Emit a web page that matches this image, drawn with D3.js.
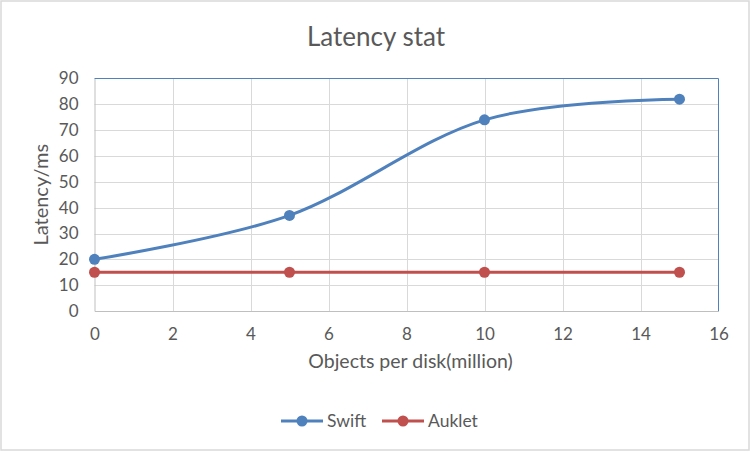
<!DOCTYPE html>
<html>
<head>
<meta charset="utf-8">
<script src="https://cdn.jsdelivr.net/npm/d3@7"></script>
<style>
  html, body { margin: 0; padding: 0; background: #fff; }
  svg { display: block; }
  text { font-family: "Lato", "Noto Sans", sans-serif; fill: #595959; }
</style>
</head>
<body>
<svg id="chart" width="751" height="452"></svg>
<script>
// ---- data ----
const xValues = [0, 5, 10, 15];
const swift = [20, 37, 74, 82];
const auklet = [15, 15, 15, 15];
const seriesNames = ["Swift", "Auklet"];
const seriesColors = ["#4F81BD", "#C0504D"];
const xTicks = [0, 2, 4, 6, 8, 10, 12, 14, 16];
const yTicks = [0, 10, 20, 30, 40, 50, 60, 70, 80, 90];
const title = "Latency stat";
const xTitle = "Objects per disk(million)";
const yTitle = "Latency/ms";

const W = 751, H = 452;
const plot = { left: 94.5, right: 718.5, top: 78.5, bottom: 311 };

const svg = d3.select("#chart");

// outer border
svg.append("rect").attr("x", 1).attr("y", 1).attr("width", 748).attr("height", 449)
  .attr("fill", "#fff").attr("stroke", "#D9D9D9").attr("stroke-width", 1.5);

const x = d3.scaleLinear().domain([0, 16]).range([plot.left, plot.right]);
const y = d3.scaleLinear().domain([0, 90]).range([plot.bottom, plot.top]);

// gridlines
const grid = svg.append("g");
grid.selectAll("line.h").data(yTicks.filter(d => d > 0 && d < 90)).join("line")
  .attr("x1", plot.left).attr("x2", plot.right)
  .attr("y1", d => Math.round(y(d)) + 0.5).attr("y2", d => Math.round(y(d)) + 0.5)
  .attr("stroke", "#D9D9D9").attr("stroke-width", 1);
grid.selectAll("line.v").data(xTicks.filter(d => d > 0 && d < 16)).join("line")
  .attr("y1", plot.top).attr("y2", plot.bottom)
  .attr("x1", d => Math.round(x(d)) + 0.5).attr("x2", d => Math.round(x(d)) + 0.5)
  .attr("stroke", "#D9D9D9").attr("stroke-width", 1);

// plot area border (blue top/right)
svg.append("path")
  .attr("d", `M${plot.left},${plot.top}H${plot.right}V${plot.bottom}`)
  .attr("fill", "none").attr("stroke", "#4F81BD").attr("stroke-width", 1);

// axes via d3 axis
const xAxis = svg.append("g").attr("transform", `translate(0,${plot.bottom})`)
  .call(d3.axisBottom(x).tickValues(xTicks).tickSize(0).tickPadding(17));
xAxis.select(".domain").attr("stroke", "#BFBFBF").attr("stroke-width", 1);
xAxis.selectAll("text").style("font-family", "Lato, 'Noto Sans', sans-serif")
  .style("font-size", "17px").attr("fill", "#595959").attr("dy", "0.71em");

const yAxis = svg.append("g").attr("transform", `translate(${plot.left},0)`)
  .call(d3.axisLeft(y).tickValues(yTicks).tickSize(0).tickPadding(16));
yAxis.select(".domain").attr("stroke", "#BFBFBF").attr("stroke-width", 1);
yAxis.selectAll("text").style("font-family", "Lato, 'Noto Sans', sans-serif")
  .style("font-size", "17px").attr("fill", "#595959");

// titles
svg.append("text").attr("x", 376).attr("y", 46).attr("text-anchor", "middle")
  .style("font-size", "26px").text(title);
svg.append("text").attr("x", (plot.left + plot.right) / 2 + 4).attr("y", 368)
  .attr("text-anchor", "middle").style("font-size", "19.5px").text(xTitle);
svg.append("text").attr("transform", `translate(48,${(plot.top + plot.bottom) / 2}) rotate(-90)`)
  .attr("text-anchor", "middle").style("font-size", "20px").text(yTitle);

// series
const series = [swift, auklet];
const line = d3.line().x(d => x(d[0])).y(d => y(d[1])).curve(d3.curveCardinal.tension(0));
const lineStraight = d3.line().x(d => x(d[0])).y(d => y(d[1]));
series.forEach((vals, i) => {
  const pts = xValues.map((xv, j) => [xv, vals[j]]);
  svg.append("path").datum(pts)
    .attr("d", i === 0 ? line : lineStraight)
    .attr("fill", "none").attr("stroke", seriesColors[i]).attr("stroke-width", 3)
    .attr("stroke-linejoin", "round").attr("stroke-linecap", "round");
  svg.append("g").selectAll("circle").data(pts).join("circle")
    .attr("cx", d => x(d[0])).attr("cy", d => y(d[1])).attr("r", 5.5)
    .attr("fill", seriesColors[i]);
});

// legend
const legendItems = [
  { x0: 281, text: "Swift" },
  { x0: 382, text: "Auklet" }
];
const ly = 421;
legendItems.forEach((it, i) => {
  const g = svg.append("g");
  g.append("line").attr("x1", it.x0).attr("x2", it.x0 + 42).attr("y1", ly).attr("y2", ly)
    .attr("stroke", seriesColors[i]).attr("stroke-width", 3);
  g.append("circle").attr("cx", it.x0 + 21).attr("cy", ly).attr("r", 5.5).attr("fill", seriesColors[i]);
  g.append("text").attr("x", it.x0 + 46).attr("y", ly).attr("dy", "0.36em")
    .style("font-size", "17.5px").text(seriesNames[i]);
});
</script>
</body>
</html>
